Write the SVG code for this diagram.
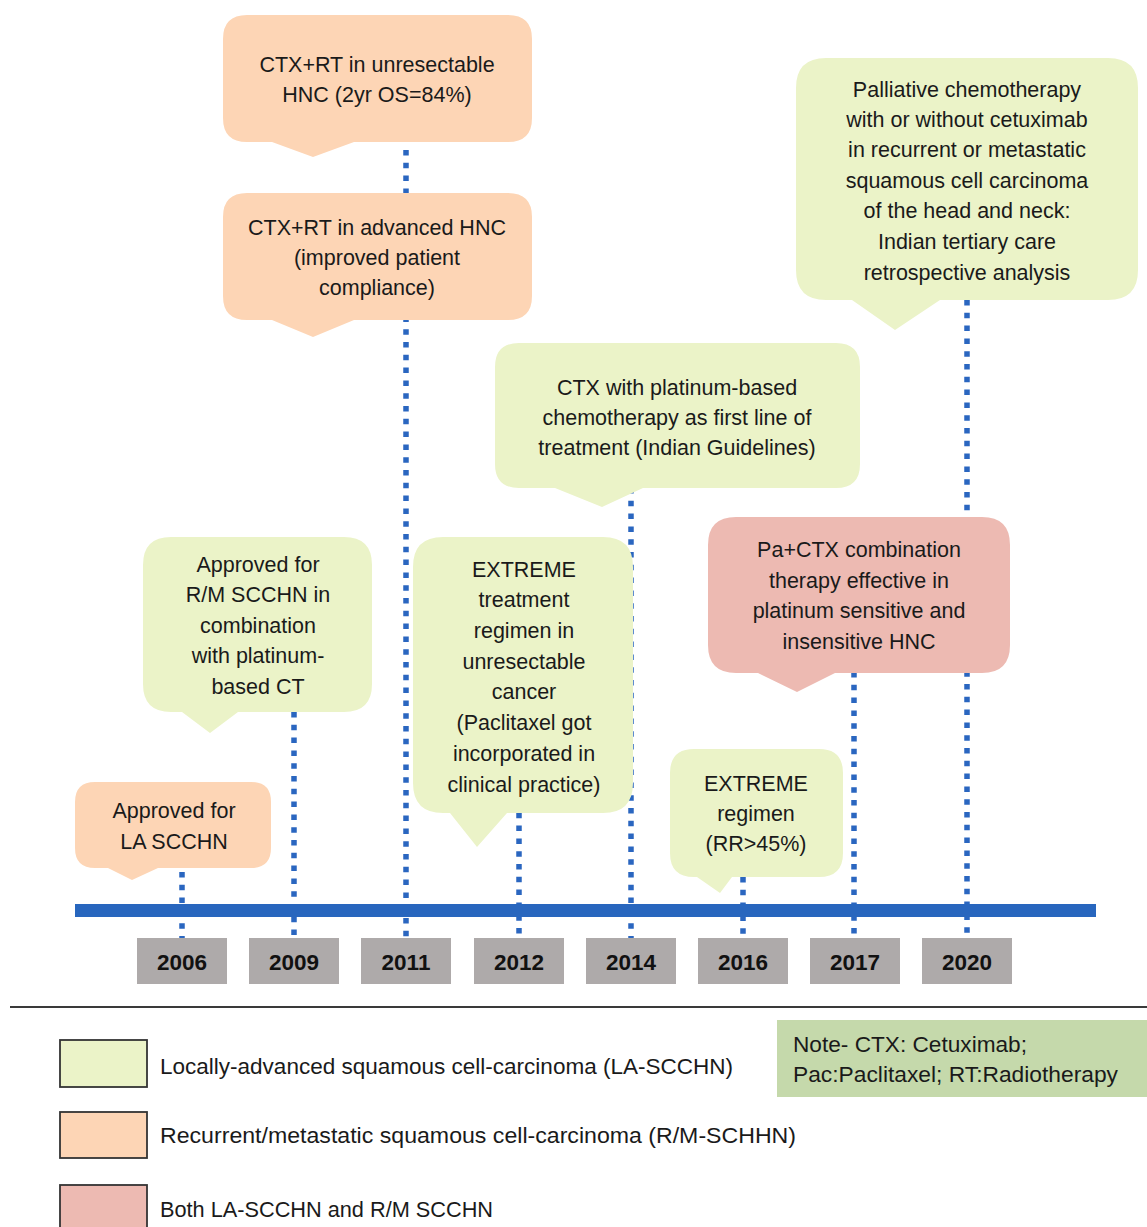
<svg xmlns="http://www.w3.org/2000/svg" width="1147" height="1227" viewBox="0 0 1147 1227">
<style>
.t{font-family:"Liberation Sans",Arial,sans-serif;font-size:21.5px;fill:#1a1a1a;text-anchor:middle}
.yr{font-family:"Liberation Sans",Arial,sans-serif;font-size:22.5px;font-weight:bold;fill:#111;text-anchor:middle}
.lg{font-family:"Liberation Sans",Arial,sans-serif;font-size:22px;fill:#1a1a1a}
.or{fill:#FDD5B5}
.gr{fill:#EBF3C8}
.pk{fill:#EDBAB2}
.dot{stroke:#2A66C0;stroke-width:5.5;stroke-dasharray:5.5 7.3;fill:none}
.yb{fill:#AEAAAA}
.lb{stroke:#333;stroke-width:1.8}
</style>
<rect width="1147" height="1227" fill="#fff"/>
<g id="connectors">
<line class="dot" x1="182" y1="872" x2="182" y2="938"/>
<line class="dot" x1="294" y1="712" x2="294" y2="944"/>
<line class="dot" x1="406" y1="150" x2="406" y2="938"/>
<line class="dot" x1="519" y1="800" x2="519" y2="938"/>
<line class="dot" x1="631" y1="488" x2="631" y2="938"/>
<line class="dot" x1="743" y1="877" x2="743" y2="938"/>
<line class="dot" x1="854" y1="672" x2="854" y2="938"/>
<line class="dot" x1="967" y1="300" x2="967" y2="938"/>
</g>
<g id="timeline"><rect x="75" y="904" width="1021" height="13" fill="#2866BE"/></g>
<g id="years">
<rect class="yb" x="137" y="938" width="90" height="46"/><text class="yr" x="182" y="970">2006</text>
<rect class="yb" x="249" y="938" width="90" height="46"/><text class="yr" x="294" y="970">2009</text>
<rect class="yb" x="361" y="938" width="90" height="46"/><text class="yr" x="406" y="970">2011</text>
<rect class="yb" x="474" y="938" width="90" height="46"/><text class="yr" x="519" y="970">2012</text>
<rect class="yb" x="586" y="938" width="90" height="46"/><text class="yr" x="631" y="970">2014</text>
<rect class="yb" x="698" y="938" width="90" height="46"/><text class="yr" x="743" y="970">2016</text>
<rect class="yb" x="810" y="938" width="90" height="46"/><text class="yr" x="855" y="970">2017</text>
<rect class="yb" x="922" y="938" width="90" height="46"/><text class="yr" x="967" y="970">2020</text>
</g>
<g id="n2006">
<path class="or" d="M95,782 H251 Q271,782 271,802 V848 Q271,868 251,868 H158 L132,880 L108,868 H95 Q75,868 75,848 V802 Q75,782 95,782 Z"/>
<text class="t" x="174" y="818">Approved for</text>
<text class="t" x="174" y="849">LA SCCHN</text>
</g>
<g id="n2011a">
<path class="or" d="M247,15 H508 Q532,15 532,39 V118 Q532,142 508,142 H354 L313,157 L272,142 H247 Q223,142 223,118 V39 Q223,15 247,15 Z"/>
<text class="t" x="377" y="72">CTX+RT in unresectable</text>
<text class="t" x="377" y="102">HNC (2yr OS=84%)</text>
</g>
<g id="n2011b">
<path class="or" d="M247,193 H508 Q532,193 532,217 V296 Q532,320 508,320 H354 L313,337 L272,320 H247 Q223,320 223,296 V217 Q223,193 247,193 Z"/>
<text class="t" x="377" y="235">CTX+RT in advanced HNC</text>
<text class="t" x="377" y="265">(improved patient</text>
<text class="t" x="377" y="295">compliance)</text>
</g>
<g id="n2020">
<path class="gr" d="M826,58 H1108 Q1138,58 1138,88 V270 Q1138,300 1108,300 H940 L895,330 L852,300 H826 Q796,300 796,270 V88 Q796,58 826,58 Z"/>
<text class="t" x="967" y="97">Palliative chemotherapy</text>
<text class="t" x="967" y="127">with or without cetuximab</text>
<text class="t" x="967" y="157">in recurrent or metastatic</text>
<text class="t" x="967" y="188">squamous cell carcinoma</text>
<text class="t" x="967" y="218">of the head and neck:</text>
<text class="t" x="967" y="249">Indian tertiary care</text>
<text class="t" x="967" y="280">retrospective analysis</text>
</g>
<g id="n2014">
<path class="gr" d="M519,343 H836 Q860,343 860,367 V464 Q860,488 836,488 H643 L602,507 L555,488 H519 Q495,488 495,464 V367 Q495,343 519,343 Z"/>
<text class="t" x="677" y="395">CTX with platinum-based</text>
<text class="t" x="677" y="425">chemotherapy as first line of</text>
<text class="t" x="677" y="455">treatment (Indian Guidelines)</text>
</g>
<g id="n2009">
<path class="gr" d="M171,537 H344 Q372,537 372,565 V684 Q372,712 344,712 H238 L210,733 L182,712 H171 Q143,712 143,684 V565 Q143,537 171,537 Z"/>
<text class="t" x="258" y="572">Approved for</text>
<text class="t" x="258" y="602">R/M SCCHN in</text>
<text class="t" x="258" y="633">combination</text>
<text class="t" x="258" y="663">with platinum-</text>
<text class="t" x="258" y="694">based CT</text>
</g>
<g id="n2012">
<path class="gr" d="M443,537 H603 Q633,537 633,567 V783 Q633,813 603,813 H507 L477,847 L450,813 H443 Q413,813 413,783 V567 Q413,537 443,537 Z"/>
<text class="t" x="524" y="577">EXTREME</text>
<text class="t" x="524" y="607">treatment</text>
<text class="t" x="524" y="638">regimen in</text>
<text class="t" x="524" y="669">unresectable</text>
<text class="t" x="524" y="699">cancer</text>
<text class="t" x="524" y="730">(Paclitaxel got</text>
<text class="t" x="524" y="761">incorporated in</text>
<text class="t" x="524" y="792">clinical practice)</text>
</g>
<g id="n2017">
<path class="pk" d="M736,517 H982 Q1010,517 1010,545 V645 Q1010,673 982,673 H835 L797,692 L758,673 H736 Q708,673 708,645 V545 Q708,517 736,517 Z"/>
<text class="t" x="859" y="557">Pa+CTX combination</text>
<text class="t" x="859" y="588">therapy effective in</text>
<text class="t" x="859" y="618">platinum sensitive and</text>
<text class="t" x="859" y="649">insensitive HNC</text>
</g>
<g id="n2016">
<path class="gr" d="M694,749 H819 Q843,749 843,773 V853 Q843,877 819,877 H732 L720,893 L697,877 H694 Q670,877 670,853 V773 Q670,749 694,749 Z"/>
<text class="t" x="756" y="791">EXTREME</text>
<text class="t" x="756" y="821">regimen</text>
<text class="t" x="756" y="851">(RR&gt;45%)</text>
</g>
<g id="legend">
<line x1="10" y1="1007" x2="1147" y2="1007" stroke="#3a3a3a" stroke-width="2"/>
<rect class="gr lb" x="60" y="1040" width="87" height="47"/>
<text class="lg" x="160" y="1074" textLength="573" lengthAdjust="spacingAndGlyphs">Locally-advanced squamous cell-carcinoma (LA-SCCHN)</text>
<rect class="or lb" x="60" y="1112" width="87" height="46"/>
<text class="lg" x="160" y="1143" textLength="636" lengthAdjust="spacingAndGlyphs">Recurrent/metastatic squamous cell-carcinoma (R/M-SCHHN)</text>
<rect class="pk lb" x="60" y="1185" width="87" height="46"/>
<text class="lg" x="160" y="1217" textLength="333" lengthAdjust="spacingAndGlyphs">Both LA-SCCHN and R/M SCCHN</text>
</g>
<g id="note">
<rect x="777" y="1020" width="370" height="77" fill="#C5D9AB"/>
<text class="lg" x="793" y="1052" textLength="234" lengthAdjust="spacingAndGlyphs">Note- CTX: Cetuximab;</text>
<text class="lg" x="793" y="1082" textLength="325" lengthAdjust="spacingAndGlyphs">Pac:Paclitaxel; RT:Radiotherapy</text>
</g>
</svg>
